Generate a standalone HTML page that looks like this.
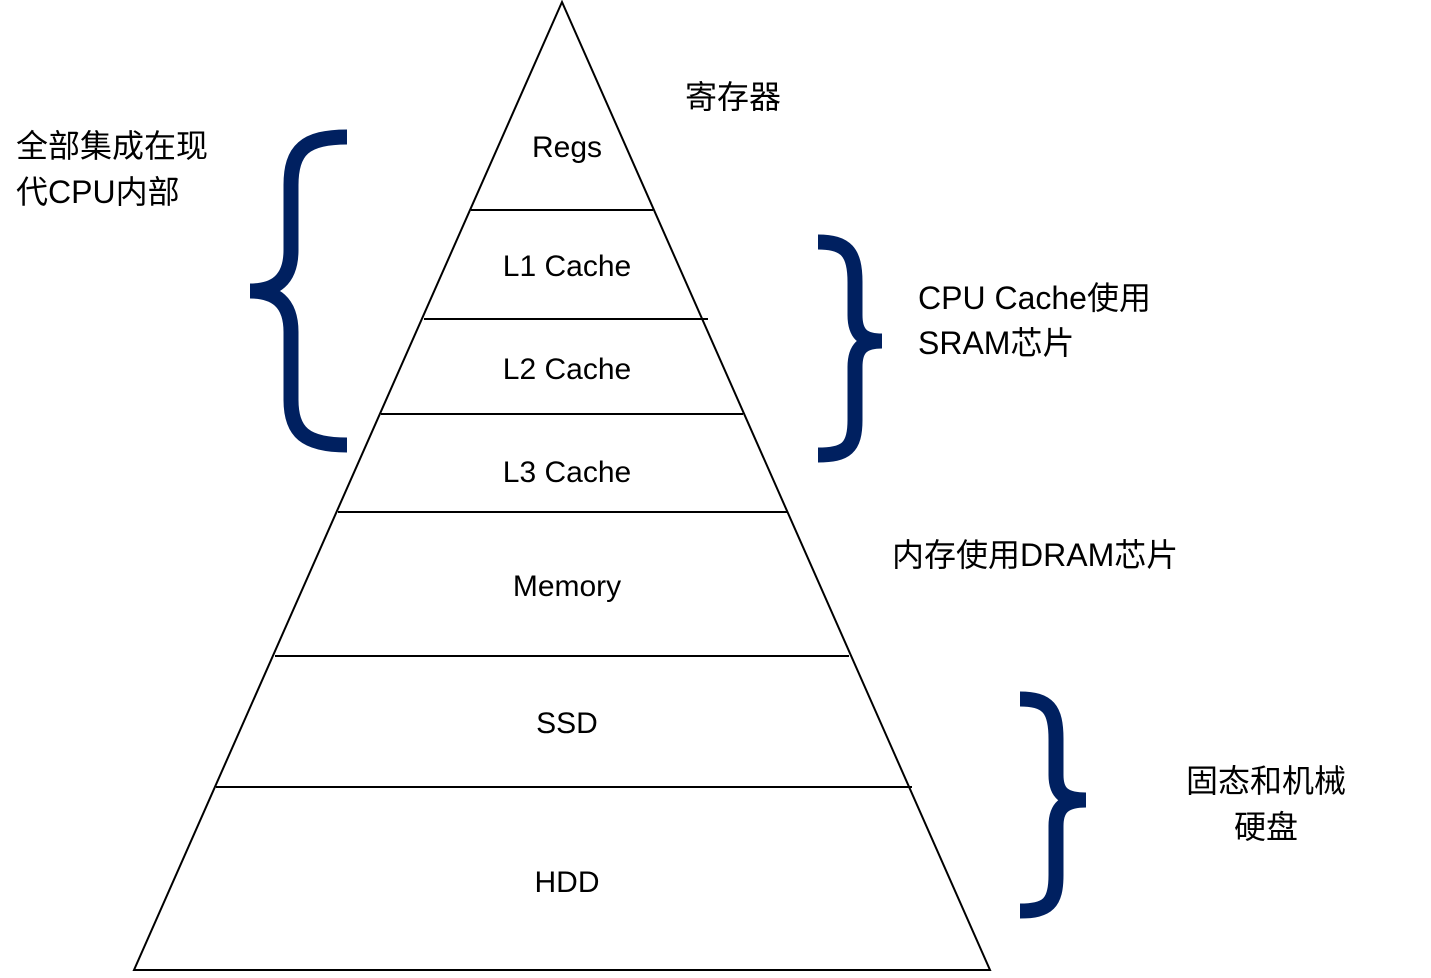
<!DOCTYPE html>
<html><head><meta charset="utf-8"><style>
body{margin:0;background:#fff;width:1431px;height:973px;overflow:hidden}
svg text{font-family:"Liberation Sans","Noto Sans CJK SC",sans-serif;fill:#000}
</style></head><body>
<svg width="1431" height="973" xmlns="http://www.w3.org/2000/svg">
<g stroke="#000" stroke-width="2" fill="none">
<polygon points="562,2 134,970 990,970"/>
<line x1="471" y1="210" x2="653" y2="210"/>
<line x1="424" y1="319" x2="708" y2="319"/>
<line x1="381" y1="414" x2="743" y2="414"/>
<line x1="338" y1="512" x2="787" y2="512"/>
<line x1="275" y1="656" x2="849" y2="656"/>
<line x1="216" y1="787" x2="912" y2="787"/>
</g>
<g stroke="#002060" stroke-width="15" fill="none" stroke-linecap="butt">
<path d="M347,137 C305,137 291,150 291,185 L291,250 C291,280 275,291 250,291 C275,291 291,302 291,332 L291,400 C291,432 305,445 347,445"/>
<path d="M818,242 C846,242 855,252 855,282 L855,315 C855,333 862,341 882,341 C862,341 855,349 855,367 L855,420 C855,448 846,455 818,455"/>
<path d="M1020,699 C1048,699 1056,709 1056,739 L1056,775 C1056,793 1064,800 1086,800 C1064,800 1056,808 1056,826 L1056,875 C1056,903 1048,911 1020,911"/>
</g>
<g font-size="30" text-anchor="middle">
<text x="567" y="157">Regs</text>
<text x="567" y="276">L1 Cache</text>
<text x="567" y="379">L2 Cache</text>
<text x="567" y="482">L3 Cache</text>
<text x="567" y="596">Memory</text>
<text x="567" y="733">SSD</text>
<text x="567" y="892">HDD</text>
</g>
<g font-size="32">
<text x="685" y="108">寄存器</text>
<text x="16" y="157">全部集成在现</text>
<text x="16" y="203">代CPU内部</text>
<text x="918" y="309">CPU Cache使用</text>
<text x="918" y="354">SRAM芯片</text>
<text x="892" y="566">内存使用DRAM芯片</text>
<text x="1266" y="792" text-anchor="middle">固态和机械</text>
<text x="1266" y="838" text-anchor="middle">硬盘</text>
</g>
</svg>
</body></html>
